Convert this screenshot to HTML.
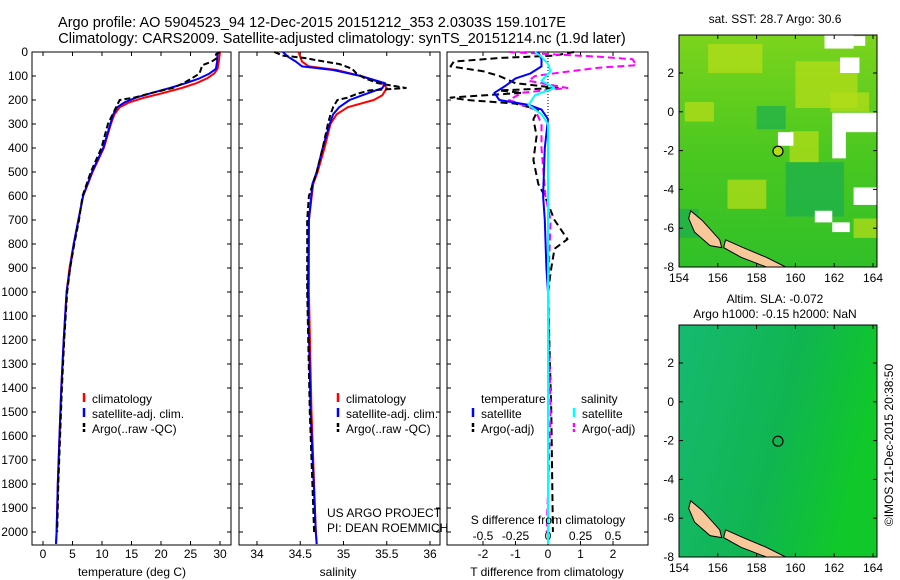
<!DOCTYPE html>
<html><head><meta charset="utf-8">
<style>
html,body{margin:0;padding:0;background:#fff;}
svg{display:block;font-family:"Liberation Sans",sans-serif;}
text{font-size:12px;fill:#000;}
</style></head>
<body>
<svg id="fig" width="900" height="580" viewBox="0 0 900 580" xmlns="http://www.w3.org/2000/svg">
<text x="312" y="27" text-anchor="middle" style="font-size:14.5px">Argo profile: AO 5904523_94 12-Dec-2015 20151212_353 2.0303S 159.1017E</text>
<text x="342" y="43" text-anchor="middle" style="font-size:14.5px">Climatology: CARS2009. Satellite-adjusted climatology: synTS_20151214.nc (1.9d later)</text>
<g id="maps"></g>
<g id="panels"></g>
</svg>
<script>
// ---------- data ----------
const depthTicks=[0,100,200,300,400,500,600,700,800,900,1000,1100,1200,1300,1400,1500,1600,1700,1800,1900,2000];
const tTicks=[0,5,10,15,20,25,30];
const sTicks=[34,34.5,35,35.5,36];
const dTTicks=[-2,-1,0,1,2];
const dSTicks=[-0.5,-0.25,0,0.25,0.5];
const dSTickLabels=["-0.5","-0.25","0","0.25","0.5"];

const tClimDepth=[0,40,70,90,110,130,150,170,190,210,230,260,300,400,500,600,700,800,900,1000,1200,1400,1600,1800,2000,2050];
const tClimVal=[30,29.8,29.6,29.0,27.8,26.0,23.5,20.5,17.2,14.6,13.0,12.1,11.5,10.3,8.4,6.8,6.0,5.2,4.5,4.0,3.5,3.1,2.8,2.5,2.3,2.2];
const tSatDepth=[0,40,70,90,110,130,150,170,190,210,230,260,300,400,500,600,700,800,900,1000,1200,1400,1600,1800,2000,2050];
const tSatVal=[29.6,29.5,29.3,28.2,26.5,24.2,21.5,18.5,15.8,13.8,12.6,11.9,11.4,10.2,8.3,6.8,6.0,5.2,4.6,4.0,3.5,3.1,2.8,2.5,2.3,2.2];
const tArgoDepth=[0,10,25,40,55,70,90,110,130,150,170,190,200,220,260,300,400,500,600,700,800,900,1000,1200,1400,1600,1800,2000];
const tArgoVal=[30.0,29.3,29.5,28.6,27.0,26.8,26.5,25.2,23.8,22.0,18.5,15.5,13.0,12.6,11.8,11.0,9.9,8.1,6.7,6.1,5.3,4.6,4.1,3.6,3.2,2.9,2.6,2.4];

const sClimDepth=[0,40,60,75,100,130,150,180,200,230,260,300,400,500,550,700,1000,1500,2000,2050];
const sClimVal=[34.48,34.52,34.60,34.92,35.20,35.45,35.50,35.45,35.35,35.05,34.92,34.85,34.78,34.70,34.65,34.60,34.60,34.63,34.68,34.69];
const sSatDepth=[0,20,40,60,75,100,130,150,180,200,230,260,300,400,500,550,700,1000,1500,2000,2050];
const sSatVal=[34.30,34.36,34.45,34.52,34.88,35.20,35.48,35.45,35.22,35.07,34.95,34.88,34.84,34.76,34.69,34.64,34.60,34.59,34.62,34.68,34.69];
const sArgoDepth=[0,15,25,35,50,70,90,110,130,150,160,175,190,200,230,260,300,400,500,600,700,1000,1500,2000];
const sArgoVal=[34.20,34.30,34.55,34.70,34.95,35.10,35.15,35.25,35.40,35.72,35.30,35.15,35.05,34.93,34.88,34.85,34.82,34.76,34.69,34.60,34.58,34.58,34.61,34.66];

const dTSatDepth=[0,30,60,90,110,140,170,200,220,240,280,400,600,700,900,1000,1500,2000];
const dTSatVal=[-0.3,-0.2,-0.2,-0.55,-1.0,-1.3,-1.65,-1.5,-0.6,-0.2,0.0,-0.1,-0.15,-0.1,-0.05,0,0,0];
const dTArgoDepth=[0,15,25,40,60,80,100,130,150,160,170,190,200,215,240,280,350,450,550,600,700,780,820,900,1000,1500,2000];
const dTArgoVal=[0.8,0.2,-1.5,-2.9,-3.0,-2.0,-1.5,-1.0,0.3,-1.5,-0.8,-3.0,-2.5,-1.0,-0.3,-0.45,-0.35,-0.45,-0.3,-0.1,0.2,0.6,0.2,0.1,0.0,0.1,0.15];
const dSSatDepth=[0,20,50,80,120,150,180,220,260,300,2000,2050];
const dSSatVal=[-0.1,-0.05,0.0,0.02,-0.05,0.05,-0.1,-0.15,-0.05,0.0,0.0,0.0];
const dSArgoDepth=[0,20,30,55,65,85,100,120,150,170,200,240,300,400,600,700,1000,1500,2000];
const dSArgoVal=[-0.3,0.4,0.65,0.68,0.4,0.1,-0.1,-0.15,0.15,-0.2,-0.3,-0.1,-0.05,-0.05,-0.02,0.02,0.0,0.02,-0.01];

const latTicks=[2,0,-2,-4,-6,-8];
const lonTicks=[154,156,158,160,162,164];
const argoLon=159.1017, argoLat=-2.0303;

// ---------- helpers ----------
const NS="http://www.w3.org/2000/svg";
function mk(tag,attrs,parent){const e=document.createElementNS(NS,tag);for(const k in attrs)e.setAttribute(k,attrs[k]);parent.appendChild(e);return e;}
const Y0=52,Y1=545,DPX=0.24;
const yD=d=>Y0+d*DPX;
const panelsG=document.getElementById('panels');
function panel(name,x0,x1,xf,xt,xl,labelsY){
  const g=mk('g',{},panelsG);
  
  
  const r=mk('rect',{x:x0,y:Y0,width:x1-x0,height:Y1-Y0,fill:'none',stroke:'#000','stroke-width':1},g);
  
  
  depthTicks.forEach(d=>{
    mk('line',{x1:x0,x2:x0+4,y1:yD(d),y2:yD(d),stroke:'#000'},g);
    mk('line',{x1:x1,x2:x1-4,y1:yD(d),y2:yD(d),stroke:'#000'},g);
  });
  xt.forEach((v,i)=>{
    const x=xf(v);
    mk('line',{x1:x,x2:x,y1:Y1,y2:Y1-4,stroke:'#000'},g);
    mk('line',{x1:x,x2:x,y1:Y0,y2:Y0+4,stroke:'#000'},g);
    if(labelsY){const t=mk('text',{x:x,y:labelsY,'text-anchor':'middle'},g);t.textContent=xl?xl[i]:String(v);
      
      }
  });
  return g;
}
function line(g,name,xf,ds,vs,color,dash,w){
  const pts=ds.map((d,i)=>xf(vs[i]).toFixed(1)+','+yD(d).toFixed(1)).join(' ');
  const p=mk('polyline',{points:pts,fill:'none',stroke:color,'stroke-width':w||2,'stroke-linejoin':'round'},g);
  if(dash)p.setAttribute('stroke-dasharray',dash);
  
  
}
function txt(g,name,x,y,s,anchor){const t=mk('text',{x:x,y:y},g);if(anchor)t.setAttribute('text-anchor',anchor);t.textContent=s;
  
  return t;}
function legendEntry(g,name,x,y,color,label,dashed){
  const m=mk('line',{x1:x,x2:x,y1:y-10,y2:y-1,stroke:color,'stroke-width':2.5},g);
  if(dashed)m.setAttribute('stroke-dasharray','4,2');
  
  
  txt(g,name,x+8,y,label);
}

// ---------- temperature panel ----------
const xT=v=>43+v*5.9;
const gT=panel('temperature-panel',32,231,xT,tTicks,null,558);
depthTicks.forEach(d=>txt(gT,'y-tick-label',28,yD(d)+4,String(d),'end'));
line(gT,'temp-climatology',xT,tClimDepth,tClimVal,'#f00');
line(gT,'temp-satellite-adj',xT,tSatDepth,tSatVal,'#00f');
line(gT,'temp-argo',xT,tArgoDepth,tArgoVal,'#000','6,3');
txt(gT,'x-axis-title-temperature',132,576,'temperature (deg C)','middle');
legendEntry(gT,'legend-climatology',84,403,'#f00','climatology');
legendEntry(gT,'legend-satellite-adj',84,418,'#00f','satellite-adj. clim.');
legendEntry(gT,'legend-argo',84,433,'#000','Argo(..raw -QC)',true);

// ---------- salinity panel ----------
const xS=v=>257+(v-34)*86.5;
const gS=panel('salinity-panel',239,440,xS,sTicks,null,558);
line(gS,'sal-climatology',xS,sClimDepth,sClimVal,'#f00');
line(gS,'sal-satellite-adj',xS,sSatDepth,sSatVal,'#00f');
line(gS,'sal-argo',xS,sArgoDepth,sArgoVal,'#000','6,3');
txt(gS,'x-axis-title-salinity',338,576,'salinity','middle');
legendEntry(gS,'legend-climatology-s',338,403,'#f00','climatology');
legendEntry(gS,'legend-satellite-adj-s',338,418,'#00f','satellite-adj. clim.');
legendEntry(gS,'legend-argo-s',338,433,'#000','Argo(..raw -QC)',true);
txt(gS,'credit-project',327,517,'US ARGO PROJECT');
txt(gS,'credit-pi',327,532,'PI: DEAN ROEMMICH');

// ---------- difference panel ----------
const xDT=v=>548+v*32.5;
const xDS=v=>548+v*130;
const gD=panel('difference-panel',447,648,xDT,dTTicks,null,558);
dSTicks.forEach((v,i)=>txt(gD,'s-diff-tick-label',xDS(v),540,dSTickLabels[i],'middle'));
mk('line',{x1:548,x2:548,y1:Y0,y2:Y1,stroke:'#000','stroke-dasharray':'1,2','stroke-width':1},gD);
line(gD,'dt-argo',xDT,dTArgoDepth,dTArgoVal,'#000','7,4');
line(gD,'ds-argo',xDS,dSArgoDepth,dSArgoVal,'#f0f','7,4');
line(gD,'dt-satellite',xDT,dTSatDepth,dTSatVal,'#00f');
line(gD,'ds-satellite',xDS,dSSatDepth,dSSatVal,'#0ff');
txt(gD,'x-axis-title-t-diff',547,576,'T difference from climatology','middle');
txt(gD,'s-diff-axis-title',548,524,'S difference from climatology','middle');
txt(gD,'legend-header-temperature',481,403,'temperature');
txt(gD,'legend-header-salinity',581,403,'salinity');
legendEntry(gD,'legend-dt-satellite',473,418,'#00f','satellite');
legendEntry(gD,'legend-dt-argo',473,433,'#000','Argo(-adj)',true);
legendEntry(gD,'legend-ds-satellite',574,418,'#0ff','satellite');
legendEntry(gD,'legend-ds-argo',574,433,'#f0f','Argo(-adj)',true);

// ---------- maps ----------
const whitePatches=[[161.5,3.96,1.5,0.7],[162.6,3.9,1.0,0.5],[162.3,2.8,1.0,0.8],[161.9,-0.05,2.3,1.0],[161.9,-1.0,0.7,1.4],[159.1,-1.05,0.8,0.7],[163.0,-3.9,1.2,0.9],[161.0,-5.1,0.9,0.6],[161.9,-5.7,0.9,0.5]];
const yellowPatches=[[155.5,3.5,2.8,1.5],[160.0,2.6,3.2,2.4],[159.7,-1.0,1.5,1.6],[154.3,0.5,1.5,1.0],[156.5,-3.5,2.0,1.5],[163.0,-5.5,1.2,1.0],[161.8,1.0,2.0,1.0]];
const tealPatches=[[159.5,-2.6,3.0,2.8],[154.0,-5.0,1.0,1.5],[158.0,0.3,1.5,1.2]];
const mapsG=document.getElementById('maps');
function map(name,top,title1,title2,kind){
  const x0=679,x1=877,lonX=v=>679+(v-154)*19.4,latY=v=>top+38+(2-v)*19.4,bot=latY(-8);
  const g=mk('g',{},mapsG);
  
  
  const defs=mk('defs',{},g);
  const gid=name+'-grad';
  if(kind==='sst'){
    const lg=mk('linearGradient',{id:gid,x1:'0',y1:'0',x2:'0',y2:'1'},defs);
    mk('stop',{offset:'0','stop-color':'#7cd41c'},lg);
    mk('stop',{offset:'0.5','stop-color':'#4cc820'},lg);
    mk('stop',{offset:'1','stop-color':'#30c028'},lg);
  }else{
    const lg=mk('linearGradient',{id:gid,x1:'0',y1:'0',x2:'1',y2:'0.3'},defs);
    mk('stop',{offset:'0','stop-color':'#16ba70'},lg);
    mk('stop',{offset:'0.6','stop-color':'#10b550'},lg);
    mk('stop',{offset:'1','stop-color':'#10c82a'},lg);
  }
  const bg=mk('rect',{x:x0,y:top,width:x1-x0,height:bot-top,fill:'url(#'+gid+')'},g);
  
  
  if(kind==='sst'){
    yellowPatches.forEach(b=>{const r=mk('rect',{x:lonX(b[0]),y:latY(b[1]),width:b[2]*19.4,height:b[3]*19.4,fill:'#b4dc18',opacity:0.75},g);
      
      });
    tealPatches.forEach(b=>{const r=mk('rect',{x:lonX(b[0]),y:latY(b[1]),width:b[2]*19.4,height:b[3]*19.4,fill:'#1aae50',opacity:0.7},g);
      
      });
    whitePatches.forEach(b=>{const r=mk('rect',{x:lonX(b[0]),y:latY(b[1]),width:b[2]*19.4,height:b[3]*19.4,fill:'#fff'},g);
      
      });
  }
  const isl=mk('polygon',{points:[[154.6,-5.1],[155.2,-5.6],[156.1,-6.6],[156.2,-7.0],[155.6,-6.9],[154.8,-6.2],[154.5,-5.5]].map(p=>lonX(p[0])+','+latY(p[1])).join(' '),fill:'#f9c89a',stroke:'#000','stroke-width':1},g);
  
  
  const isl2=mk('polygon',{points:[[156.4,-6.6],[157.3,-7.0],[158.5,-7.5],[159.5,-8.0],[158.5,-8.0],[157.2,-7.5],[156.3,-7.0]].map(p=>lonX(p[0])+','+latY(p[1])).join(' '),fill:'#f9c89a',stroke:'#000','stroke-width':1},g);
  
  
  const c=mk('circle',{cx:lonX(argoLon),cy:latY(argoLat),r:5,fill:kind==='sst'?'#b4dc10':'none',stroke:'#000','stroke-width':1.2},g);
  
  
  mk('rect',{x:x0,y:top,width:x1-x0,height:bot-top,fill:'none',stroke:'#000'},g);
  latTicks.forEach(v=>{const y=latY(v);
    mk('line',{x1:x0,x2:x0+4,y1:y,y2:y,stroke:'#000'},g);mk('line',{x1:x1,x2:x1-4,y1:y,y2:y,stroke:'#000'},g);
    txt(g,name+'-lat-label',674,y+4,String(v),'end');});
  lonTicks.forEach(v=>{const x=lonX(v);
    mk('line',{x1:x,x2:x,y1:bot,y2:bot-4,stroke:'#000'},g);mk('line',{x1:x,x2:x,y1:top,y2:top+4,stroke:'#000'},g);
    txt(g,name+'-lon-label',x,bot+15,String(v),'middle');});
  txt(g,name+'-title',775,title2?top-22:top-12,title1,'middle');
  if(title2)txt(g,name+'-title-2',775,top-7,title2,'middle');
}
map('sst-map',35,'sat. SST: 28.7 Argo: 30.6',null,'sst');
map('sla-map',325,'Altim. SLA: -0.072','Argo h1000: -0.15 h2000: NaN','sla');
const cr=txt(mapsG,'imos-credit',0,0,'©IMOS 21-Dec-2015 20:38:50','middle');
cr.setAttribute('transform','translate(893,445) rotate(-90)');
</script>
</body></html>
